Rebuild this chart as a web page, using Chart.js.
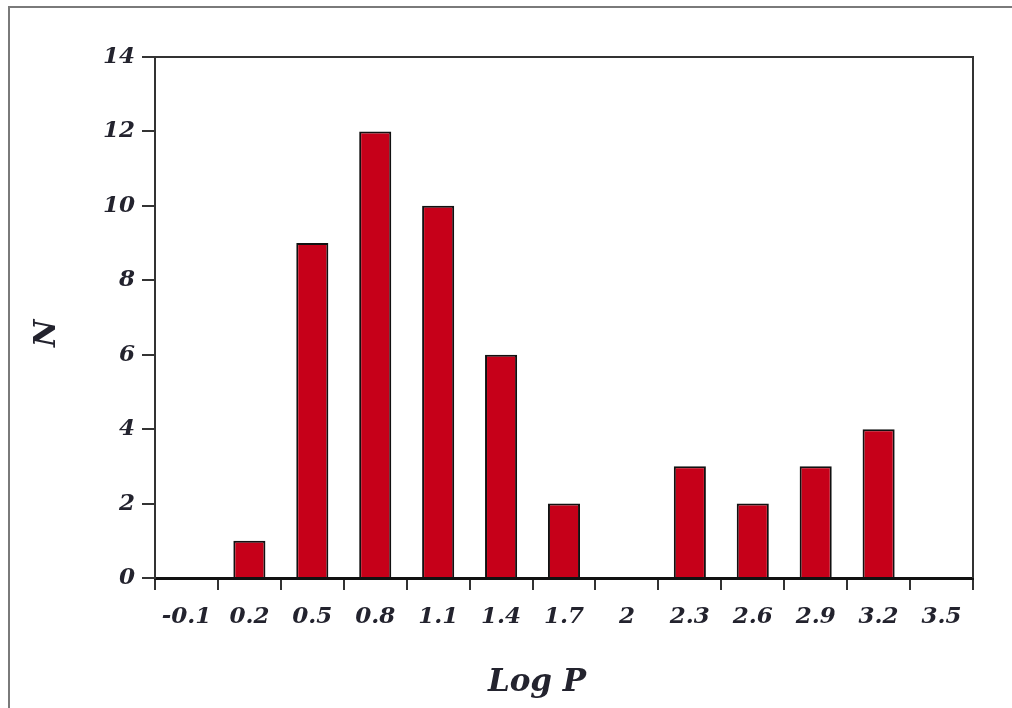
<!DOCTYPE html>
<html>
<head>
<meta charset="utf-8">
<script src="https://cdn.jsdelivr.net/npm/chart.js@4"></script>
<style>
html,body{margin:0;padding:0;background:#fff;}
#wrap{position:relative;width:1012px;height:708px;}
#frame{position:absolute;left:8px;top:6px;right:-10px;bottom:-10px;border-top:2px solid #7a7a7a;border-left:2px solid #7a7a7a;pointer-events:none;}
canvas{position:absolute;left:0;top:0;}
</style>
</head>
<body>
<div id="wrap">
<canvas id="c" width="1012" height="708"></canvas>
<div id="frame"></div>
</div>
<script>
const categories = ['-0.1','0.2','0.5','0.8','1.1','1.4','1.7','2','2.3','2.6','2.9','3.2','3.5'];
const counts = [0,1,9,12,10,6,2,0,3,2,3,4,0];
const yTicks = [0,2,4,6,8,10,12,14];
const xTitle = 'Log P';
const yTitle = 'N';

const fontFam = '"DejaVu Serif", serif';
const textColor = '#23232e';
const pad = n => '\u00a0'.repeat(n);

const framePlugin = {
  id: 'framePlugin',
  afterDraw(chart){
    const a = chart.chartArea, ctx = chart.ctx;
    ctx.save();
    ctx.strokeStyle = '#333';
    ctx.lineWidth = 2;
    ctx.beginPath();
    ctx.moveTo(a.left, a.top);
    ctx.lineTo(a.right, a.top);
    ctx.lineTo(a.right, a.bottom);
    ctx.stroke();
    ctx.restore();
  }
};

new Chart(document.getElementById('c'), {
  type: 'bar',
  data: {
    labels: categories,
    datasets: [{
      data: counts,
      backgroundColor: '#c60019',
      borderColor: '#111',
      borderWidth: 2,
      borderSkipped: 'bottom',
      categoryPercentage: 1.0,
      barPercentage: 0.51
    }]
  },
  options: {
    responsive: false,
    animation: false,
    devicePixelRatio: 1,
    layout: { padding: { left: 0, top: 57, right: 39, bottom: 6 } },
    plugins: { legend: { display: false }, tooltip: { enabled: false } },
    scales: {
      x: {
        offset: true,
        grid: { display: true, offset: true, drawOnChartArea: false, drawTicks: true, tickLength: 12, color: '#333', lineWidth: 2 },
        border: { display: true, color: '#111', width: 3 },
        ticks: { color: textColor, font: { family: fontFam, size: 23, style: 'italic', weight: 'bold' }, padding: 13, maxRotation: 0, autoSkip: false },
        title: { display: true, text: xTitle + pad(5), color: textColor, font: { family: fontFam, size: 31, style: 'italic', weight: 'bold' }, padding: { top: 20, bottom: 0 } },
        afterFit(scale){ scale.height = 124; }
      },
      y: {
        min: 0, max: 14,
        afterBuildTicks(scale){ scale.ticks = yTicks.map(v => ({ value: v })); },
        grid: { display: true, drawOnChartArea: false, drawTicks: true, tickLength: 13, color: '#333', lineWidth: 2 },
        border: { display: true, color: '#333', width: 2 },
        ticks: { color: textColor, font: { family: fontFam, size: 23, style: 'italic', weight: 'bold' }, padding: 7 },
        title: { display: true, text: yTitle + pad(3), color: textColor, font: { family: fontFam, size: 30, style: 'italic', weight: 'bold' }, padding: { top: 29, bottom: 0 } },
        afterFit(scale){ scale.width = 155; }
      }
    }
  },
  plugins: [framePlugin]
});
</script>
</body>
</html>
